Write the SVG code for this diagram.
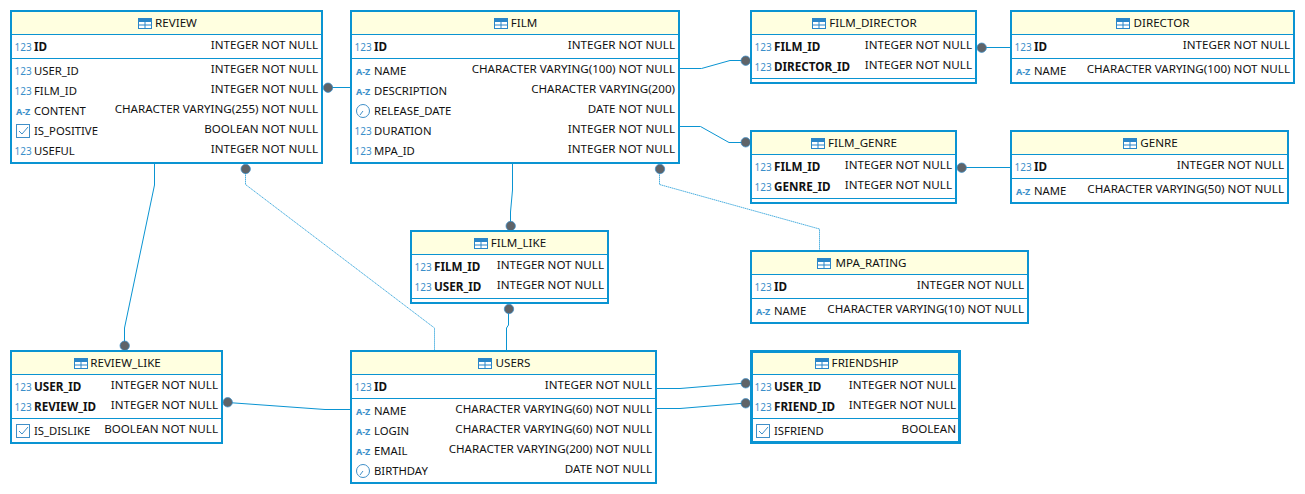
<svg xmlns="http://www.w3.org/2000/svg" width="1305" height="494" viewBox="0 0 1305 494">
<style>
text{font-family:"Noto Sans","Open Sans","DejaVu Sans",sans-serif;font-size:11.6px;fill:#111}
.b{fill:#fff;stroke:#0a94d2;stroke-width:2}
.t{fill:#ffffe0;stroke:none}
.s{stroke:#0a94d2;stroke-width:1;fill:none}
.h{text-anchor:middle}
.k{font-weight:700;font-size:11.7px}
.l{font-size:11.3px}
.r{text-anchor:end}
.n{font-size:10px;fill:#3b8fca}
.a{font-size:9px;fill:#3b8fca;font-weight:700}
.c{fill:none;stroke:#0a94d2;stroke-width:1}
.d{fill:none;stroke:#4db0e0;stroke-width:1;stroke-dasharray:1.5 .5}
.e{fill:#5f6368;stroke:#3b8fca;stroke-width:.75}
.i{fill:none;stroke:#3f8fc8;stroke-width:1}
</style>
<defs>
<g id="tbl"><rect x="0.5" y="0.5" width="13" height="10" fill="#fff" stroke="#2a86c8"/><path d="M0.5 3.5H13.5M0.5 7H13.5M7 3.5V10.5" stroke="#2a86c8" fill="none"/><rect x="0.5" y="0.5" width="13" height="2.5" fill="#2a86c8"/></g>
<g id="chk"><rect x="0.5" y="0.5" width="13" height="13" class="i"/><path d="M3 7l3 3 6-7" class="i"/></g>
<g id="clk"><circle cx="7" cy="7" r="6.5" class="i"/><path d="M7 7L4 11" class="i"/></g>
</defs>
<g id="connectors">
<path class="c" d="M328 87.5H351"/>
<path class="c" d="M679 68.5H701.5L730 60.5H745.7"/>
<path class="c" d="M679 126.5H700.5L729 142.5H745.7"/>
<path class="c" d="M981.7 47.5H1011"/>
<path class="c" d="M961.7 167.5H1011"/>
<path class="c" d="M512.5 163V190L510.5 212V226"/>
<path class="c" d="M154.5 163V185L124.5 328V346"/>
<path class="d" d="M245.5 169V184.5L434.5 328V351"/>
<path class="d" d="M659.5 169V184.5L819.5 229V251"/>
<path class="c" d="M508.5 309V325L506.5 328V351"/>
<path class="c" d="M227.7 402.5L325 409.5H351"/>
<path class="c" d="M656 388.5H680L740 383.5H745.7"/>
<path class="c" d="M656 408.5H680L740 403.5H745.7"/>
<circle class="e" cx="328" cy="87.7" r="4.7"/><circle class="e" cx="745.7" cy="60.7" r="4.7"/><circle class="e" cx="745.7" cy="142.3" r="4.7"/><circle class="e" cx="981.7" cy="47.7" r="4.7"/><circle class="e" cx="961.7" cy="167.7" r="4.7"/><circle class="e" cx="510.7" cy="226" r="4.7"/><circle class="e" cx="124.7" cy="345.7" r="4.7"/><circle class="e" cx="245.7" cy="169" r="4.7"/><circle class="e" cx="660" cy="169" r="4.7"/><circle class="e" cx="509" cy="309" r="4.7"/><circle class="e" cx="227.7" cy="402.3" r="4.7"/><circle class="e" cx="745.7" cy="383.3" r="4.7"/><circle class="e" cx="745.7" cy="403.3" r="4.7"/>
</g>
<g id="REVIEW">
<rect class="b" x="11" y="11" width="311" height="152"/><rect class="t" x="12" y="12" width="309" height="22"/>
<path class="s" d="M12 34.5H321M12 58.5H321"/>
<use href="#tbl" x="138" y="18"/><text class="h" x="176" y="27">REVIEW</text>
<text class="n" x="14.5" y="51">123</text><text class="k" x="34" y="51">ID</text><text class="r" x="318" y="49">INTEGER NOT NULL</text>
<text class="n" x="14.5" y="75">123</text><text class="l" x="34" y="75">USER_ID</text><text class="r" x="318" y="73">INTEGER NOT NULL</text>
<text class="n" x="14.5" y="95">123</text><text class="l" x="34" y="95">FILM_ID</text><text class="r" x="318" y="93">INTEGER NOT NULL</text>
<text class="a" x="16" y="115">A-Z</text><text class="l" x="34" y="115">CONTENT</text><text class="r" x="318" y="113">CHARACTER VARYING(255) NOT NULL</text>
<use href="#chk" x="16" y="124"/><text class="l" x="34" y="135">IS_POSITIVE</text><text class="r" x="318" y="133">BOOLEAN NOT NULL</text>
<text class="n" x="14.5" y="155">123</text><text class="l" x="34" y="155">USEFUL</text><text class="r" x="318" y="153">INTEGER NOT NULL</text>
</g>
<g id="FILM">
<rect class="b" x="351" y="11" width="328" height="152"/><rect class="t" x="352" y="12" width="326" height="22"/>
<path class="s" d="M352 34.5H678M352 58.5H678"/>
<use href="#tbl" x="494" y="18"/><text class="h" x="524" y="27">FILM</text>
<text class="n" x="354.5" y="51">123</text><text class="k" x="374" y="51">ID</text><text class="r" x="675" y="49">INTEGER NOT NULL</text>
<text class="a" x="356" y="75">A-Z</text><text class="l" x="374" y="75">NAME</text><text class="r" x="675" y="73">CHARACTER VARYING(100) NOT NULL</text>
<text class="a" x="356" y="95">A-Z</text><text class="l" x="374" y="95">DESCRIPTION</text><text class="r" x="675" y="93">CHARACTER VARYING(200)</text>
<use href="#clk" x="356" y="104"/><text class="l" x="374" y="115">RELEASE_DATE</text><text class="r" x="675" y="113">DATE NOT NULL</text>
<text class="n" x="354.5" y="135">123</text><text class="l" x="374" y="135">DURATION</text><text class="r" x="675" y="133">INTEGER NOT NULL</text>
<text class="n" x="354.5" y="155">123</text><text class="l" x="374" y="155">MPA_ID</text><text class="r" x="675" y="153">INTEGER NOT NULL</text>
</g>
<g id="FILM_DIRECTOR">
<rect class="b" x="751" y="11" width="225" height="72"/><rect class="t" x="752" y="12" width="223" height="22"/>
<path class="s" d="M752 34.5H975M752 78.5H975"/>
<use href="#tbl" x="812" y="18"/><text class="h" x="873" y="27">FILM_DIRECTOR</text>
<text class="n" x="754.5" y="51">123</text><text class="k" x="774" y="51">FILM_ID</text><text class="r" x="972" y="49">INTEGER NOT NULL</text>
<text class="n" x="754.5" y="71">123</text><text class="k" x="774" y="71">DIRECTOR_ID</text><text class="r" x="972" y="69">INTEGER NOT NULL</text>
</g>
<g id="DIRECTOR">
<rect class="b" x="1011" y="11" width="283" height="72"/><rect class="t" x="1012" y="12" width="281" height="22"/>
<path class="s" d="M1012 34.5H1293M1012 58.5H1293"/>
<use href="#tbl" x="1116" y="18"/><text class="h" x="1161.5" y="27">DIRECTOR</text>
<text class="n" x="1014.5" y="51">123</text><text class="k" x="1034" y="51">ID</text><text class="r" x="1290" y="49">INTEGER NOT NULL</text>
<text class="a" x="1016" y="75">A-Z</text><text class="l" x="1034" y="75">NAME</text><text class="r" x="1290" y="73">CHARACTER VARYING(100) NOT NULL</text>
</g>
<g id="FILM_GENRE">
<rect class="b" x="751" y="131" width="205" height="72"/><rect class="t" x="752" y="132" width="203" height="22"/>
<path class="s" d="M752 154.5H955M752 198.5H955"/>
<use href="#tbl" x="811" y="138"/><text class="h" x="862.5" y="147">FILM_GENRE</text>
<text class="n" x="754.5" y="171">123</text><text class="k" x="774" y="171">FILM_ID</text><text class="r" x="952" y="169">INTEGER NOT NULL</text>
<text class="n" x="754.5" y="191">123</text><text class="k" x="774" y="191">GENRE_ID</text><text class="r" x="952" y="189">INTEGER NOT NULL</text>
</g>
<g id="GENRE">
<rect class="b" x="1011" y="131" width="277" height="72"/><rect class="t" x="1012" y="132" width="275" height="22"/>
<path class="s" d="M1012 154.5H1287M1012 178.5H1287"/>
<use href="#tbl" x="1123" y="138"/><text class="h" x="1159" y="147">GENRE</text>
<text class="n" x="1014.5" y="171">123</text><text class="k" x="1034" y="171">ID</text><text class="r" x="1284" y="169">INTEGER NOT NULL</text>
<text class="a" x="1016" y="195">A-Z</text><text class="l" x="1034" y="195">NAME</text><text class="r" x="1284" y="193">CHARACTER VARYING(50) NOT NULL</text>
</g>
<g id="FILM_LIKE">
<rect class="b" x="411" y="231" width="197" height="72"/><rect class="t" x="412" y="232" width="195" height="22"/>
<path class="s" d="M412 254.5H607M412 298.5H607"/>
<use href="#tbl" x="474" y="238"/><text class="h" x="518.5" y="247">FILM_LIKE</text>
<text class="n" x="414.5" y="271">123</text><text class="k" x="434" y="271">FILM_ID</text><text class="r" x="604" y="269">INTEGER NOT NULL</text>
<text class="n" x="414.5" y="291">123</text><text class="k" x="434" y="291">USER_ID</text><text class="r" x="604" y="289">INTEGER NOT NULL</text>
</g>
<g id="MPA_RATING">
<rect class="b" x="751" y="251" width="277" height="72"/><rect class="t" x="752" y="252" width="275" height="22"/>
<path class="s" d="M752 274.5H1027M752 298.5H1027"/>
<use href="#tbl" x="817" y="258"/><text class="h" x="871" y="267">MPA_RATING</text>
<text class="n" x="754.5" y="291">123</text><text class="k" x="774" y="291">ID</text><text class="r" x="1024" y="289">INTEGER NOT NULL</text>
<text class="a" x="756" y="315">A-Z</text><text class="l" x="774" y="315">NAME</text><text class="r" x="1024" y="313">CHARACTER VARYING(10) NOT NULL</text>
</g>
<g id="REVIEW_LIKE">
<rect class="b" x="11" y="351" width="211" height="92"/><rect class="t" x="12" y="352" width="209" height="22"/>
<path class="s" d="M12 374.5H221M12 418.5H221"/>
<use href="#tbl" x="74" y="358"/><text class="h" x="125.5" y="367">REVIEW_LIKE</text>
<text class="n" x="14.5" y="391">123</text><text class="k" x="34" y="391">USER_ID</text><text class="r" x="218" y="389">INTEGER NOT NULL</text>
<text class="n" x="14.5" y="411">123</text><text class="k" x="34" y="411">REVIEW_ID</text><text class="r" x="218" y="409">INTEGER NOT NULL</text>
<use href="#chk" x="16" y="424"/><text class="l" x="34" y="435">IS_DISLIKE</text><text class="r" x="218" y="433">BOOLEAN NOT NULL</text>
</g>
<g id="USERS">
<rect class="b" x="351" y="351" width="305" height="132"/><rect class="t" x="352" y="352" width="303" height="22"/>
<path class="s" d="M352 374.5H655M352 398.5H655"/>
<use href="#tbl" x="478" y="358"/><text class="h" x="513" y="367">USERS</text>
<text class="n" x="354.5" y="391">123</text><text class="k" x="374" y="391">ID</text><text class="r" x="652" y="389">INTEGER NOT NULL</text>
<text class="a" x="356" y="415">A-Z</text><text class="l" x="374" y="415">NAME</text><text class="r" x="652" y="413">CHARACTER VARYING(60) NOT NULL</text>
<text class="a" x="356" y="435">A-Z</text><text class="l" x="374" y="435">LOGIN</text><text class="r" x="652" y="433">CHARACTER VARYING(60) NOT NULL</text>
<text class="a" x="356" y="455">A-Z</text><text class="l" x="374" y="455">EMAIL</text><text class="r" x="652" y="453">CHARACTER VARYING(200) NOT NULL</text>
<use href="#clk" x="356" y="464"/><text class="l" x="374" y="475">BIRTHDAY</text><text class="r" x="652" y="473">DATE NOT NULL</text>
</g>
<g id="FRIENDSHIP">
<rect class="b" style="stroke-width:3" x="751.5" y="351.5" width="208" height="91"/><rect class="t" x="753" y="353" width="205" height="21"/>
<path class="s" d="M753 374.5H958M753 418.5H958"/>
<use href="#tbl" x="815" y="358"/><text class="h" x="865" y="367">FRIENDSHIP</text>
<text class="n" x="754.5" y="391">123</text><text class="k" x="774" y="391">USER_ID</text><text class="r" x="956" y="389">INTEGER NOT NULL</text>
<text class="n" x="754.5" y="411">123</text><text class="k" x="774" y="411">FRIEND_ID</text><text class="r" x="956" y="409">INTEGER NOT NULL</text>
<use href="#chk" x="756" y="424"/><text class="l" x="774" y="435">ISFRIEND</text><text class="r" x="956" y="433">BOOLEAN</text>
</g>
</svg>
